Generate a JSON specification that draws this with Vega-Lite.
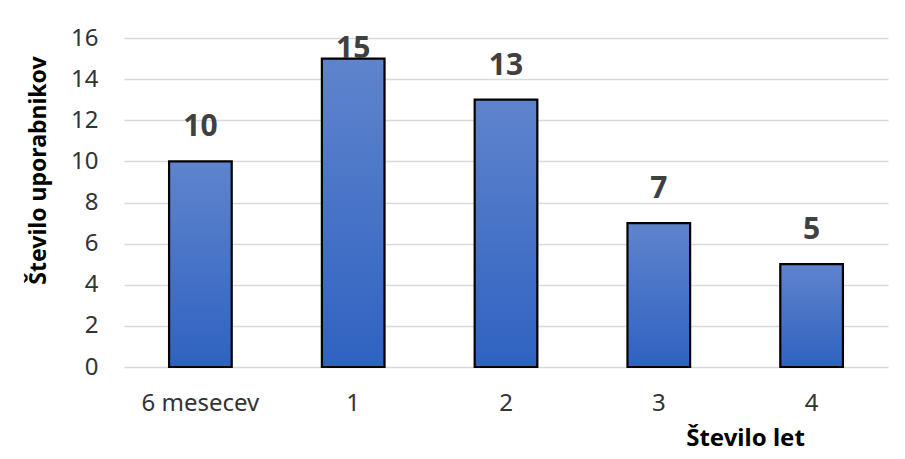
{
  "$schema": "https://vega.github.io/schema/vega-lite/v6.json",
  "width": 764,
  "height": 329,
  "autosize": {"type": "none"},
  "padding": {"left": 124, "top": 38, "right": 17, "bottom": 92},
  "background": "white",
  "config": {
    "view": {"stroke": null},
    "font": "Noto Sans"
  },
  "data": {
    "values": [
      {"kategorija": "6 mesecev", "uporabniki": 10},
      {"kategorija": "1", "uporabniki": 15},
      {"kategorija": "2", "uporabniki": 13},
      {"kategorija": "3", "uporabniki": 7},
      {"kategorija": "4", "uporabniki": 5}
    ]
  },
  "encoding": {
    "x": {
      "field": "kategorija",
      "type": "nominal",
      "sort": null,
      "scale": {"paddingInner": 0.59, "paddingOuter": 0.295},
      "axis": {
        "title": "Število let",
        "labelAngle": 0,
        "labelFontSize": 24,
        "labelColor": "#333333",
        "labelBaseline": "middle",
        "labelPadding": 36,
        "ticks": false,
        "domain": false,
        "titleFontSize": 24,
        "titleFontWeight": "bold",
        "titleColor": "#000000",
        "titleX": 621,
        "titleY": 71,
        "titleBaseline": "middle",
        "titleAlign": "center",
        "titleAnchor": null
      }
    },
    "y": {
      "field": "uporabniki",
      "type": "quantitative",
      "scale": {"domain": [0, 16]},
      "axis": {
        "title": "Število uporabnikov",
        "values": [0, 2, 4, 6, 8, 10, 12, 14, 16],
        "labelFontSize": 24,
        "labelColor": "#333333",
        "labelPadding": 26,
        "ticks": false,
        "domain": false,
        "grid": true,
        "gridColor": "#D9D9D9",
        "gridWidth": 1.3,
        "titleFontSize": 23,
        "titleFontWeight": "bold",
        "titleColor": "#000000",
        "titleX": -86,
        "titleY": 132,
        "titleBaseline": "middle",
        "titleAlign": "center",
        "titleAngle": -90
      }
    }
  },
  "layer": [
    {
      "mark": {
        "type": "bar",
        "stroke": "#000000",
        "strokeWidth": 2.2,
        "fill": {
          "gradient": "linear",
          "x1": 0, "y1": 0, "x2": 0, "y2": 1,
          "stops": [
            {"offset": 0, "color": "#5F84CD"},
            {"offset": 1, "color": "#2F62C1"}
          ]
        }
      }
    },
    {
      "transform": [{"filter": "datum.uporabniki < 15"}],
      "mark": {
        "type": "text",
        "fontSize": 30,
        "fontWeight": "bold",
        "color": "#404040",
        "baseline": "middle",
        "dy": -34
      },
      "encoding": {"text": {"field": "uporabniki", "type": "quantitative"}}
    },
    {
      "transform": [{"filter": "datum.uporabniki >= 15"}],
      "mark": {
        "type": "text",
        "fontSize": 30,
        "fontWeight": "bold",
        "color": "#404040",
        "baseline": "middle",
        "dy": -10
      },
      "encoding": {"text": {"field": "uporabniki", "type": "quantitative"}}
    }
  ]
}
